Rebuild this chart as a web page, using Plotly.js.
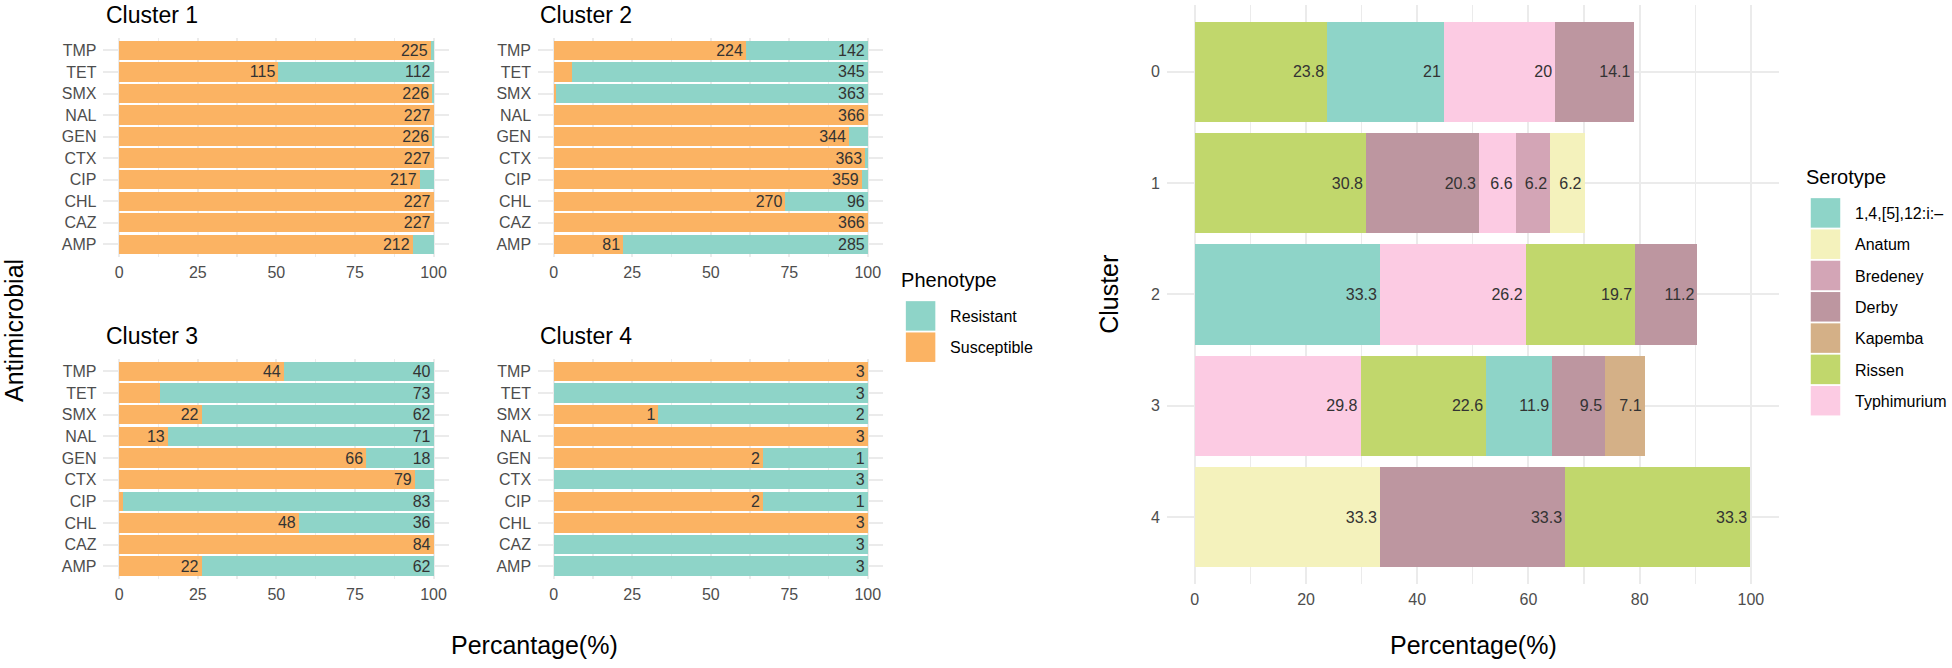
<!DOCTYPE html>
<html><head><meta charset="utf-8">
<script src="https://cdn.plot.ly/plotly-3.0.1.min.js"></script>
<style>html,body{margin:0;padding:0;background:#fff}</style>
</head><body><div id="chart" style="width:1952px;height:668px"></div>
<script>
// ---------- data ----------
const antimicrobials = ['AMP','CAZ','CHL','CIP','CTX','GEN','NAL','SMX','TET','TMP'];
const phenotypeClusters = ['Cluster 1','Cluster 2','Cluster 3','Cluster 4'];
const susceptible1 = [212,227,227,217,227,226,227,226,115,225];
const resistant1   = [15,0,0,10,0,1,0,1,112,2];
const susceptible2 = [81,366,270,359,363,344,366,3,21,224];
const resistant2   = [285,0,96,7,3,22,0,363,345,142];
const susceptible3 = [22,84,48,1,79,66,13,22,11,44];
const resistant3   = [62,0,36,83,5,18,71,62,73,40];
const susceptible4 = [0,0,3,2,0,2,3,1,0,3];
const resistant4   = [3,3,0,1,3,1,0,2,3,0];
const labelMinPct = 15;

const serotypes = ['1,4,[5],12:i:–','Anatum','Bredeney','Derby','Kapemba','Rissen','Typhimurium'];
const serotypeColors = ['#8ED4C8','#F4F2BC','#D3A5B6','#BD96A0','#D4B087','#C1D76C','#FCCBE3'];
const serotypeClusters = ['0','1','2','3','4'];
const clusterSerotypes = [
  ['Rissen','1,4,[5],12:i:–','Typhimurium','Derby'],
  ['Rissen','Derby','Typhimurium','Bredeney','Anatum'],
  ['1,4,[5],12:i:–','Typhimurium','Rissen','Derby'],
  ['Typhimurium','Rissen','1,4,[5],12:i:–','Derby','Kapemba'],
  ['Anatum','Derby','Rissen']
];
const clusterPercents = [
  [23.8,21,20,14.1],
  [30.8,20.3,6.6,6.2,6.2],
  [33.3,26.2,19.7,11.2],
  [29.8,22.6,11.9,9.5,7.1],
  [33.3,33.3,33.3]
];

// ---------- styling ----------
const W = 1952, H = 668;
const FONT = 'Liberation Sans, Arial, Helvetica, sans-serif';
const RES_COLOR = '#8ED4C8', SUS_COLOR = '#FBB363';
const GRID = '#EBEBEB';
const px = v => v / W, py = v => 1 - v / H;

const susceptible = [susceptible1, susceptible2, susceptible3, susceptible4];
const resistant = [resistant1, resistant2, resistant3, resistant4];

const data = [];
const axisSuffix = ['', '2', '3', '4'];
phenotypeClusters.forEach((cl, c) => {
  const tot = susceptible[c].map((s, i) => s + resistant[c][i]);
  const series = [
    {name: 'Susceptible', vals: susceptible[c], color: SUS_COLOR, rank: 2},
    {name: 'Resistant', vals: resistant[c], color: RES_COLOR, rank: 1}
  ];
  series.forEach(s => {
    const pct = s.vals.map((v, i) => v / tot[i] * 100);
    data.push({
      type: 'bar', orientation: 'h',
      x: pct, y: antimicrobials,
      xaxis: 'x' + axisSuffix[c], yaxis: 'y' + axisSuffix[c],
      name: s.name, legend: 'legend', legendgroup: s.name, legendrank: s.rank,
      showlegend: c === 0,
      marker: {color: s.color, line: {width: 0}},
      text: s.vals.map((v, i) => pct[i] >= labelMinPct ? String(v) : ''),
      textposition: 'inside', insidetextanchor: 'end', textangle: 0,
      constraintext: 'none',
      textfont: {family: FONT, size: 16, color: '#333333'},
      hoverinfo: 'skip'
    });
  });
});

const shown = {};
serotypeClusters.forEach((cl, c) => {
  clusterSerotypes[c].forEach((sero, k) => {
    const idx = serotypes.indexOf(sero);
    data.push({
      type: 'bar', orientation: 'h',
      x: [clusterPercents[c][k]], y: [cl],
      xaxis: 'x5', yaxis: 'y5',
      name: sero, legend: 'legend2', legendgroup: 'S' + idx, legendrank: idx + 1,
      showlegend: !shown[sero],
      marker: {color: serotypeColors[idx], line: {width: 0}},
      text: [String(clusterPercents[c][k])],
      textposition: 'inside', insidetextanchor: 'end', textangle: 0,
      constraintext: 'none',
      textfont: {family: FONT, size: 16, color: '#333333'},
      hoverinfo: 'skip'
    });
    shown[sero] = true;
  });
});

function xAxis(d0, d1, anchor, dt) {
  return {
    domain: [px(d0), px(d1)], anchor: anchor, range: [-5, 105],
    tick0: 0, dtick: dt, showgrid: true, gridcolor: GRID, gridwidth: 2,
    minor: {tick0: 0, dtick: dt / 2, showgrid: true, gridcolor: GRID, gridwidth: 1.2, ticks: ''},
    zeroline: false, showline: false, ticks: '',
    tickfont: {family: FONT, size: 16, color: '#4D4D4D'},
    ticklabelstandoff: 4, fixedrange: true
  };
}
function yAxis(t0, t1, anchor, cats, range) {
  return {
    domain: [py(t1), py(t0)], anchor: anchor, type: 'category',
    categoryorder: 'array', categoryarray: cats, range: range,
    showgrid: true, gridcolor: GRID, gridwidth: 2,
    zeroline: false, showline: false, ticks: '',
    tickfont: {family: FONT, size: 16, color: '#4D4D4D'},
    ticklabelstandoff: 6, fixedrange: true
  };
}

const topR = [37.5, 257.2], botR = [358.5, 579.2];
const leftC = [103.6, 449.7], rightC = [538.6, 884.4];

const annotations = [];
const titlePos = [[104, 15], [539, 15], [104, 336], [539, 336]];
phenotypeClusters.forEach((t, i) => annotations.push({
  text: t, xref: 'paper', yref: 'paper', x: px(titlePos[i][0]), y: py(titlePos[i][1]),
  xanchor: 'left', yanchor: 'middle', showarrow: false,
  font: {family: FONT, size: 23, color: '#000'}
}));
annotations.push(
  {text: 'Antimicrobial', xref: 'paper', yref: 'paper', x: px(14), y: py(330), textangle: -90,
   xanchor: 'center', yanchor: 'middle', showarrow: false, font: {family: FONT, size: 25, color: '#000'}},
  {text: 'Percantage(%)', xref: 'paper', yref: 'paper', x: px(535), y: py(645),
   xanchor: 'center', yanchor: 'middle', showarrow: false, font: {family: FONT, size: 25, color: '#000'}},
  {text: 'Percentage(%)', xref: 'paper', yref: 'paper', x: px(1475), y: py(645),
   xanchor: 'center', yanchor: 'middle', showarrow: false, font: {family: FONT, size: 25, color: '#000'}},
  {text: 'Cluster', xref: 'paper', yref: 'paper', x: px(1110), y: py(294), textangle: -90,
   xanchor: 'center', yanchor: 'middle', showarrow: false, font: {family: FONT, size: 25, color: '#000'}}
);

const layout = {
  width: W, height: H, margin: {l: 0, r: 0, t: 0, b: 0},
  paper_bgcolor: '#fff', plot_bgcolor: '#fff',
  font: {family: FONT, color: '#000'},
  barmode: 'stack', bargap: 0.1,
  xaxis: xAxis(leftC[0], leftC[1], 'y', 25),
  yaxis: yAxis(topR[0], topR[1], 'x', antimicrobials, [-0.6, 9.6]),
  xaxis2: xAxis(rightC[0], rightC[1], 'y2', 25),
  yaxis2: yAxis(topR[0], topR[1], 'x2', antimicrobials, [-0.6, 9.6]),
  xaxis3: xAxis(leftC[0], leftC[1], 'y3', 25),
  yaxis3: yAxis(botR[0], botR[1], 'x3', antimicrobials, [-0.6, 9.6]),
  xaxis4: xAxis(rightC[0], rightC[1], 'y4', 25),
  yaxis4: yAxis(botR[0], botR[1], 'x4', antimicrobials, [-0.6, 9.6]),
  xaxis5: xAxis(1168.2, 1780.5, 'y5', 20),
  yaxis5: yAxis(4.9, 584, 'x5', serotypeClusters, [4.6, -0.6]),
  legend: {
    title: {text: 'Phenotype', font: {family: FONT, size: 20, color: '#000'}},
    x: px(892), y: py(273), xanchor: 'left', yanchor: 'top',
    font: {family: FONT, size: 16, color: '#000'},
    itemwidth: 49, tracegroupgap: 7.5, bgcolor: 'rgba(0,0,0,0)', borderwidth: 0
  },
  legend2: {
    title: {text: 'Serotype', font: {family: FONT, size: 20, color: '#000'}},
    x: px(1798), y: py(170), xanchor: 'left', yanchor: 'top',
    font: {family: FONT, size: 16, color: '#000'},
    itemwidth: 49, tracegroupgap: 7.5, bgcolor: 'rgba(0,0,0,0)', borderwidth: 0
  },
  annotations: annotations
};

Plotly.newPlot('chart', data, layout, {staticPlot: true, displayModeBar: false}).then(gd => {
  gd.querySelectorAll('.legendpoints path').forEach(p => {
    p.setAttribute('d', 'M14.75,14.75H-14.75V-14.75H14.75Z');
  });
  gd.querySelectorAll('.legendtitletext, .legend2titletext').forEach(t => {
    t.setAttribute('transform', 'translate(8,-12)');
  });
});
</script>
</body></html>
